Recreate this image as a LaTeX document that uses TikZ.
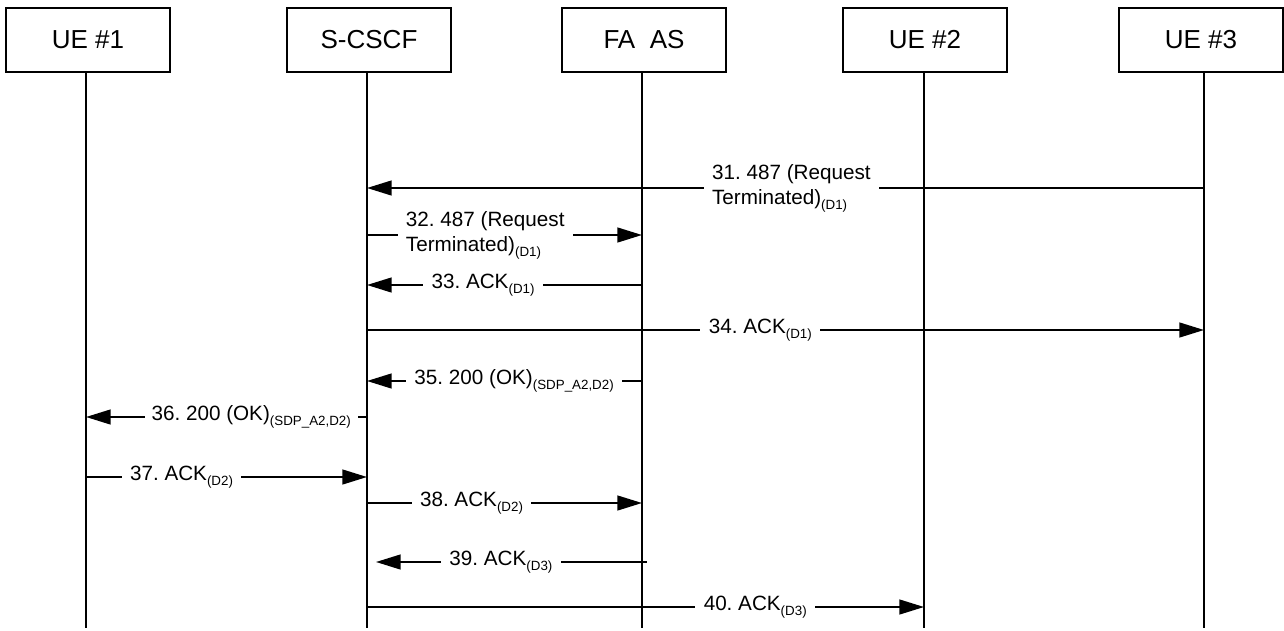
\documentclass[tikz,border=0pt]{standalone}
\usepackage{fontspec}
\setmainfont{Liberation Sans}
\usetikzlibrary{arrows.meta}
\frenchspacing
\newcommand{\dsub}[1]{\raisebox{-0.45ex}{\fontsize{9.5}{10}\selectfont #1}}

\begin{document}
\begin{tikzpicture}[
    x=0.025cm, y=-0.025cm,
    entity/.style={
        draw,
        line width=1.4pt,
        minimum width=4.1cm,
        minimum height=1.62cm,
        font=\fontsize{18.5}{22}\selectfont
    },
    life/.style={line width=1.4pt},
    msg/.style={line width=1.4pt, -{Triangle[length=17.5pt, width=10.5pt]}},
    lbl/.style={
        fill=white,
        inner xsep=6pt,
        inner ysep=1pt,
        align=left,
        font=\fontsize{14.7}{17.8}\selectfont
    }
]
\useasboundingbox (0,0) rectangle (1284,631);

% entities
\node[entity] (ue1)  at (88,40)   {UE \#1};
\node[entity] (cscf) at (369,40)  {S-CSCF};
\node[entity] (faas) at (644,40)  {FA\ \ AS};
\node[entity] (ue2)  at (925,40)  {UE \#2};
\node[entity] (ue3)  at (1201,40) {UE \#3};

\foreach \n/\x in {ue1/86,cscf/367,faas/642,ue2/924,ue3/1204}
    \draw[life] (\x,0 |- \n.south) coordinate (\n top) -- (\x,628) coordinate (\n bot);

% messages
\draw[msg] (ue3top |- 0,188) -- (cscftop |- 0,188)
    node[lbl, pos=0.493] {31. 487 (Request\\Terminated)\dsub{(D1)}};
\draw[msg] (cscftop |- 0,235) -- (faastop |- 0,235)
    node[lbl, pos=0.43] {32. 487 (Request\\Terminated)\dsub{(D1)}};
\draw[msg] (faastop |- 0,285) -- (cscftop |- 0,285)
    node[lbl, pos=0.578] {33. ACK\dsub{(D1)}};
\draw[msg] (cscftop |- 0,330) -- (ue3top |- 0,330)
    node[lbl, pos=0.47] {34. ACK\dsub{(D1)}};
\draw[msg] (faastop |- 0,381) -- (cscftop |- 0,381)
    node[lbl, pos=0.465] {35. 200 (OK)\dsub{(SDP\_A2,D2)}};
\draw[msg] (cscftop |- 0,417) -- (ue1top |- 0,417)
    node[lbl, pos=0.412, inner xsep=5pt] {36. 200 (OK)\dsub{(SDP\_A2,D2)}};
\draw[msg] (ue1top |- 0,477) -- (cscftop |- 0,477)
    node[lbl, pos=0.34] {37. ACK\dsub{(D2)}};
\draw[msg] (cscftop |- 0,503) -- (faastop |- 0,503)
    node[lbl, pos=0.38] {38. ACK\dsub{(D2)}};
\draw[msg, shorten <=-3.5pt, shorten >=6.4pt] (faastop |- 0,562) -- (cscftop |- 0,562)
    node[lbl, pos=0.513] {39. ACK\dsub{(D3)}};
\draw[msg] (cscftop |- 0,607) -- (ue2top |- 0,607)
    node[lbl, pos=0.697] {40. ACK\dsub{(D3)}};
\end{tikzpicture}
\end{document}
